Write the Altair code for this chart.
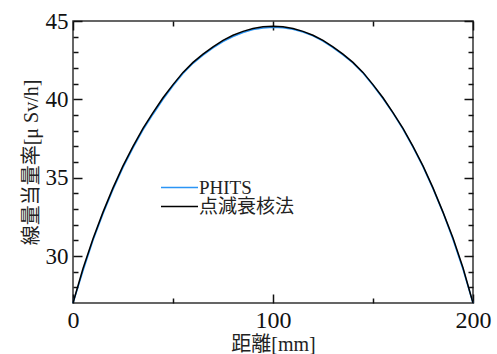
import altair as alt
import pandas as pd

distance = [0, 5, 10, 15, 20, 25, 30, 35, 40, 45, 50, 55, 60, 65, 70, 75, 80, 85, 90, 95, 100,
            105, 110, 115, 120, 125, 130, 135, 140, 145, 150, 155, 160, 165, 170, 175, 180, 185, 190, 195, 200]

phits = [27.0, 29.05, 31.0, 32.7, 34.25, 35.65, 36.9, 38.05, 39.05, 40.0, 40.87, 41.65, 42.3, 42.82, 43.28,
         43.68, 44.0, 44.27, 44.45, 44.56, 44.6,
         44.57, 44.47, 44.3, 44.05, 43.72, 43.3, 42.84, 42.32, 41.68, 40.9, 40.05, 39.12, 38.1, 36.95,
         35.7, 34.3, 32.77, 31.05, 29.15, 27.0]

point_kernel = [27.0, 29.2, 31.1, 32.8, 34.35, 35.75, 37.0, 38.15, 39.15, 40.1, 40.94, 41.72, 42.36, 42.88, 43.35,
                43.76, 44.09, 44.34, 44.52, 44.63, 44.67,
                44.63, 44.52, 44.34, 44.09, 43.76, 43.35, 42.88, 42.36, 41.72, 40.94, 40.1, 39.15, 38.15, 37.0,
                35.75, 34.35, 32.8, 31.15, 29.25, 27.0]

series_names = ["PHITS", "点減衰核法"]
series_colors = ["#2b95f5", "#000000"]

x_major = [0, 100, 200]
x_minor = [50, 150]
y_major = [30, 35, 40, 45]
y_minor = [28, 29, 31, 32, 33, 34, 36, 37, 38, 39, 41, 42, 43, 44]

df = pd.DataFrame({
    "x": distance * 2,
    "y": phits + point_kernel,
    "s": [series_names[0]] * len(distance) + [series_names[1]] * len(distance),
})

SERIF = "'Liberation Serif', 'Noto Sans CJK JP', serif"
xs = alt.Scale(domain=[0, 200], nice=False, zero=False)
ys = alt.Scale(domain=[27, 45], nice=False, zero=False)


def series_color(i, legend_y):
    return alt.Color(
        "s:N",
        scale=alt.Scale(domain=[series_names[i]], range=[series_colors[i]]),
        legend=alt.Legend(
            title=None, orient="none", legendX=87, legendY=legend_y,
            symbolType="stroke", symbolSize=1369, symbolStrokeWidth=1.5,
            labelFont=SERIF, labelFontSize=19, labelColor="#222", labelOffset=0,
            padding=0,
        ),
    )


main_x = alt.X("x:Q", scale=xs, axis=alt.Axis(
    orient="bottom", values=x_major, ticks=False, domain=False, grid=False,
    labelFont=SERIF, labelFontSize=24, labelColor="#111", labelPadding=5, labelFlush=False,
    title="距離[mm]", titleFont=SERIF, titleFontSize=20, titleFontWeight="normal",
    titleColor="#222", titlePadding=2,
))
main_y = alt.Y("y:Q", scale=ys, axis=alt.Axis(
    orient="left", values=y_major, ticks=False, domain=False, grid=False,
    labelFont=SERIF, labelFontSize=23, labelColor="#111", labelPadding=5, labelFlush=False,
    title="線量当量率[μ Sv/h]", titleFont=SERIF, titleFontSize=20, titleFontWeight="normal",
    titleColor="#222", titlePadding=4,
))

line_phits = alt.Chart(df).transform_filter(alt.datum.s == series_names[0]).mark_line(
    strokeWidth=1.5).encode(x=main_x, y=main_y, color=series_color(0, 147))
line_pk = alt.Chart(df).transform_filter(alt.datum.s == series_names[1]).mark_line(
    strokeWidth=1.5).encode(x=alt.X("x:Q", scale=xs, axis=None), y=alt.Y("y:Q", scale=ys, axis=None),
                            color=series_color(1, 166))


def tick_layer(xo, yo, xv, yv, size):
    ax = alt.Axis(orient=xo, values=xv, labels=False, domain=False, grid=False, title=None,
                  tickSize=size, offset=-size, tickColor="#111", tickWidth=1.5)
    ay = alt.Axis(orient=yo, values=yv, labels=False, domain=False, grid=False, title=None,
                  tickSize=size, offset=-size, tickColor="#111", tickWidth=1.5)
    return alt.Chart(df).mark_point(opacity=0).encode(
        x=alt.X("x:Q", scale=xs, axis=ax), y=alt.Y("y:Q", scale=ys, axis=ay))


chart = alt.layer(
    line_phits,
    line_pk,
    tick_layer("bottom", "left", x_major, y_major, 9),
    tick_layer("bottom", "left", x_minor, y_minor, 5),
    tick_layer("top", "right", x_major, y_major, 9),
    tick_layer("top", "right", x_minor, y_minor, 5),
).resolve_axis(x="independent", y="independent").resolve_scale(
    color="independent").resolve_legend(color="independent").properties(
    width=400, height=282,
    autosize=alt.AutoSizeParams(type="none"),
    padding={"left": 73, "top": 21, "right": 24, "bottom": 51},
).configure_view(stroke="#333", strokeWidth=1.5)

chart.save("out.html", embed_options={"renderer": "svg", "actions": False})
